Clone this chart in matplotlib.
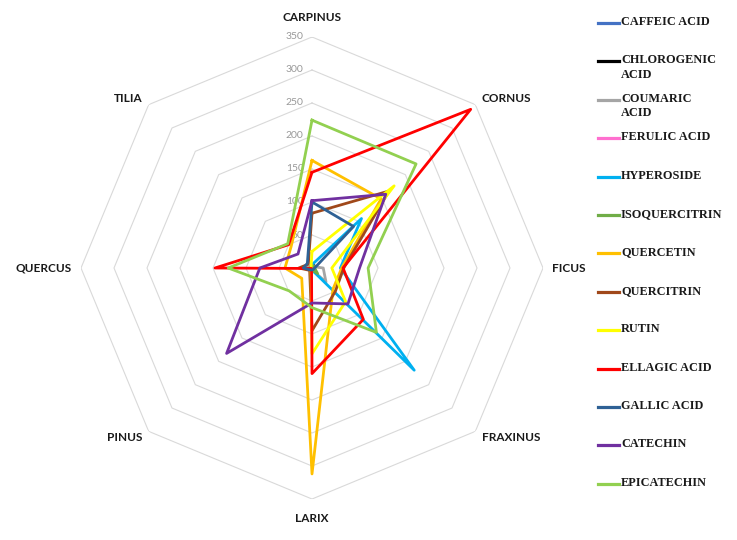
import numpy as np
import matplotlib.pyplot as plt
from matplotlib.lines import Line2D

categories = ['CARPINUS', 'CORNUS', 'FICUS', 'FRAXINUS', 'LARIX', 'PINUS', 'QUERCUS', 'TILIA']
levels = [50, 100, 150, 200, 250, 300, 350]

# values, one list per compound (same order as categories)
caffeic = [3, 4, 2, 3, 2, 2, 3, 2]
chlorogenic = [4, 5, 3, 4, 3, 3, 4, 3]
coumaric = [3, 3, 17, 30, 3, 3, 12, 3]
ferulic = [2, 3, 2, 2, 2, 2, 2, 2]
hyperoside = [5, 106, 43, 219, 3, 2, 3, 2]
isoquercitrin = [3, 4, 4, 12, 3, 3, 3, 3]
quercetin = [163, 148, 45, 45, 312, 22, 41, 45]
quercitrin = [83, 165, 48, 50, 95, 5, 20, 8]
rutin = [25, 176, 30, 72, 130, 2, 2, 2]
ellagic = [145, 340, 47, 110, 160, 1, 147, 50]
gallic = [100, 89, 4, 3, 3, 4, 13, 10]
catechin = [102, 158, 72, 77, 53, 183, 79, 30]
epicatechin = [224, 223, 85, 138, 60, 49, 127, 52]

names = ['CAFFEIC ACID', 'CHLOROGENIC\nACID', 'COUMARIC\nACID', 'FERULIC ACID', 'HYPEROSIDE',
         'ISOQUERCITRIN', 'QUERCETIN', 'QUERCITRIN', 'RUTIN', 'ELLAGIC ACID', 'GALLIC ACID',
         'CATECHIN', 'EPICATECHIN']
series = [caffeic, chlorogenic, coumaric, ferulic, hyperoside, isoquercitrin, quercetin,
          quercitrin, rutin, ellagic, gallic, catechin, epicatechin]
colors = ['#4472C4', '#000000', '#A5A5A5', '#FF6FCF', '#00B0F0', '#70AD47', '#FFC000',
          '#A0481A', '#FFFF00', '#FF0000', '#2E6195', '#7030A0', '#92D050']

fig = plt.figure(figsize=(7.37, 5.40), dpi=100)
ax = fig.add_axes([0.1099, 0.0759, 0.6269, 0.8556], projection='polar')
ax.set_theta_zero_location('N')
ax.set_theta_direction(-1)
ax.set_ylim(0, 350)
ax.grid(False)
ax.spines['polar'].set_visible(False)
ax.set_xticks([])
ax.set_yticks([])

theta = np.arange(len(categories)) * 2 * np.pi / len(categories)
closed = np.append(theta, theta[0])

for lv in levels:
    ax.plot(closed, [lv] * (len(categories) + 1), color='#D9D9D9', lw=0.8, zorder=1)
    ax.annotate(str(lv), xy=(0, lv), xytext=(-6, 0), textcoords='offset points',
                ha='right', va='center', color='#999999', fontsize=7.5, family='Lato')

for vals, c in zip(series, colors):
    ax.plot(closed, vals + vals[:1], color=c, lw=2, zorder=3)

# category labels outside the outer ring
for t, name in zip(theta, categories):
    s = np.sin(t)
    if abs(s) < 0.1:
        ha, r = 'center', 379
    elif s > 0:
        ha, r = 'left', 364
    else:
        ha, r = 'right', 364
    ax.text(t, r, name, ha=ha, va='center', fontsize=8.5, fontweight='bold',
            family='Lato', color='#1a1a1a')

# legend on the right
for i, (name, c) in enumerate(zip(names, colors)):
    yc = 1 - (23 + 38.4 * i) / 540
    fig.add_artist(Line2D([598 / 737, 619 / 737], [yc, yc], color=c, lw=2.3))
    fig.text(621 / 737, yc + 7 / 540, name, ha='left', va='top', fontsize=8.8,
             fontweight='bold', family='Liberation Serif', linespacing=1.3, color='#1a1a1a')

fig.savefig('out.png', dpi=100)
